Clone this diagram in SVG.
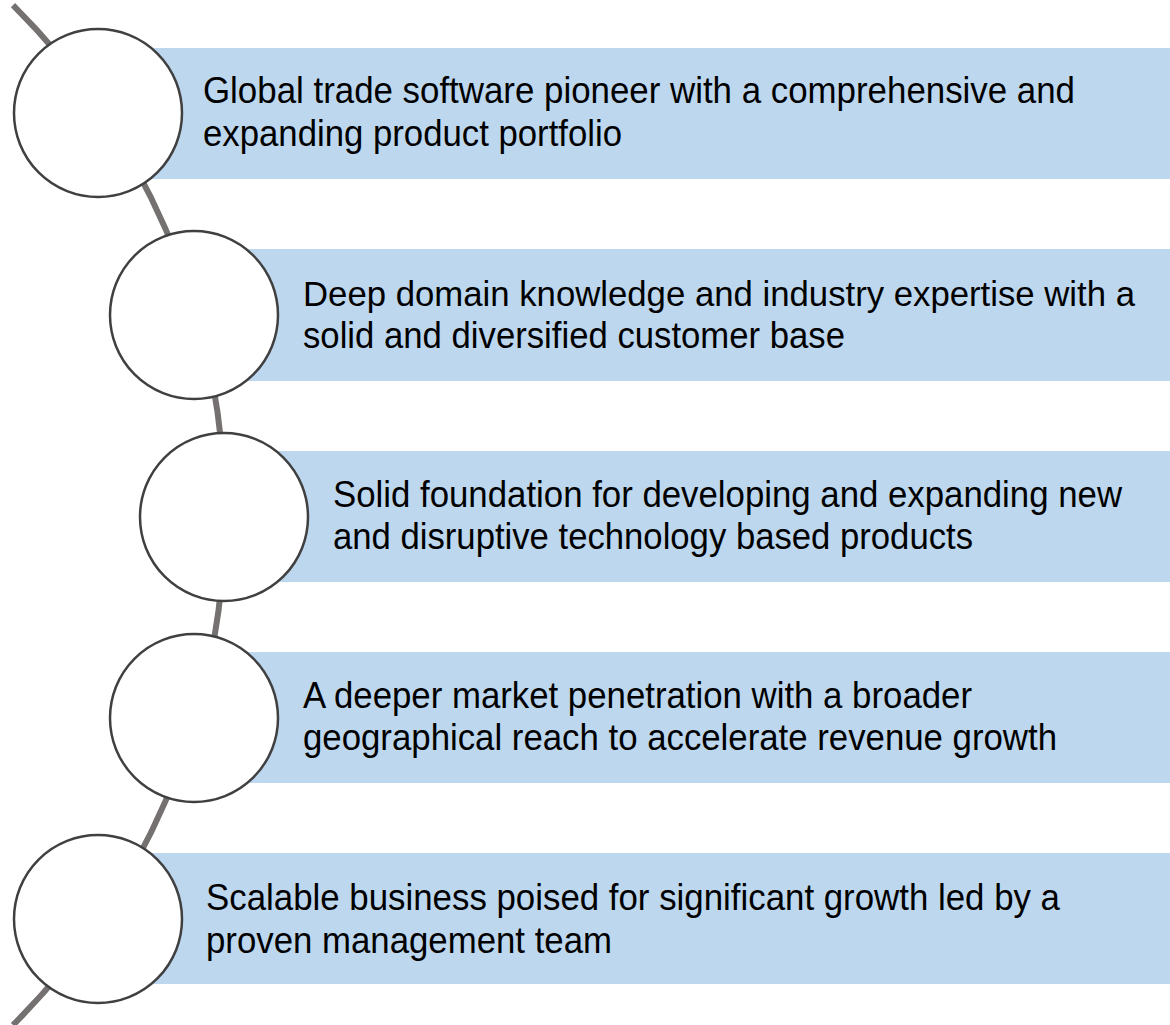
<svg xmlns="http://www.w3.org/2000/svg" width="1170" height="1025" viewBox="0 0 1170 1025">
  <style>
    .bar { fill: #BDD7EE; }
    .node { fill: #FFFFFF; stroke: #404040; stroke-width: 2.5; }
    .arc { fill: none; stroke: #767171; stroke-width: 6; }
    .label { font-family: "Liberation Sans", Arial, sans-serif; font-size: 37px; fill: #000000; }
    .tight { font-size: 35.5px; }
  </style>
  <rect width="1170" height="1025" fill="#FFFFFF"/>
  <g id="bars">
    <rect class="bar" x="98" y="48" width="1072" height="131"/>
    <rect class="bar" x="194" y="249" width="976" height="132"/>
    <rect class="bar" x="224" y="451" width="946" height="131"/>
    <rect class="bar" x="194" y="652" width="976" height="131"/>
    <rect class="bar" x="98" y="853" width="1072" height="131"/>
  </g>
  <g id="connectors">
    <path class="arc" d="M 13 5 A 720 720 0 0 1 13 1025"/>
  </g>
  <g id="node1">
    <circle class="node" cx="98" cy="113" r="84"/>
    <text class="label" x="203" y="103" textLength="872" lengthAdjust="spacingAndGlyphs">Global trade software pioneer with a comprehensive and</text>
    <text class="label" x="203" y="146" textLength="419" lengthAdjust="spacingAndGlyphs">expanding product portfolio</text>
  </g>
  <g id="node2">
    <circle class="node" cx="194" cy="315" r="84"/>
    <text class="label tight" x="303" y="306" textLength="832" lengthAdjust="spacingAndGlyphs">Deep domain knowledge and industry expertise with a</text>
    <text class="label" x="303" y="348" textLength="542" lengthAdjust="spacingAndGlyphs">solid and diversified customer base</text>
  </g>
  <g id="node3">
    <circle class="node" cx="224" cy="517" r="84"/>
    <text class="label" x="333" y="507" textLength="789" lengthAdjust="spacingAndGlyphs">Solid foundation for developing and expanding new</text>
    <text class="label" x="333" y="549" textLength="640" lengthAdjust="spacingAndGlyphs">and disruptive technology based products</text>
  </g>
  <g id="node4">
    <circle class="node" cx="194" cy="718" r="84"/>
    <text class="label" x="303" y="708" textLength="669" lengthAdjust="spacingAndGlyphs">A deeper market penetration with a broader</text>
    <text class="label" x="303" y="750" textLength="754" lengthAdjust="spacingAndGlyphs">geographical reach to accelerate revenue growth</text>
  </g>
  <g id="node5">
    <circle class="node" cx="98" cy="919" r="84"/>
    <text class="label" x="206" y="910" textLength="854" lengthAdjust="spacingAndGlyphs">Scalable business poised for significant growth led by a</text>
    <text class="label" x="206" y="953" textLength="406" lengthAdjust="spacingAndGlyphs">proven management team</text>
  </g>
</svg>
